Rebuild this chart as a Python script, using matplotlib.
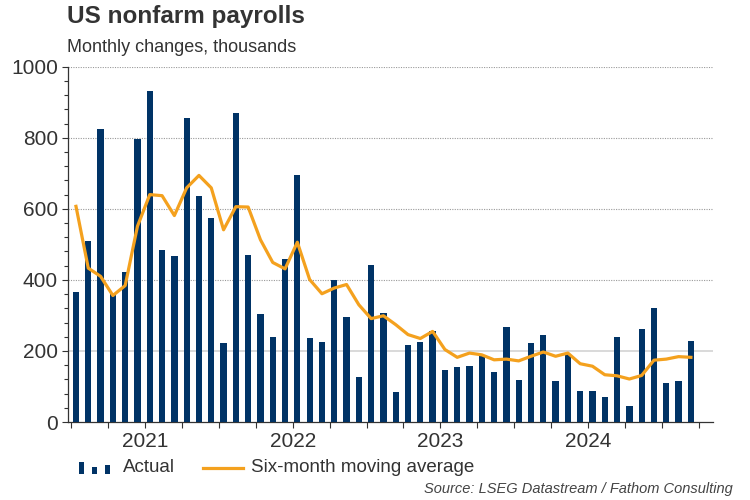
import numpy as np
import matplotlib
matplotlib.use("Agg")
import matplotlib.pyplot as plt
from matplotlib.patches import Rectangle
from matplotlib.lines import Line2D

plt.rcParams['font.family'] = ['Liberation Sans', 'DejaVu Sans']

# Monthly changes, Jan 2021 - Mar 2025 (thousands)
actual = [365, 509, 825, 360, 422, 796, 932, 485, 466, 857,
          637, 573, 223, 870, 470, 305, 240, 460, 695, 236,
          226, 400, 296, 126, 442, 307, 85, 216, 226, 255,
          147, 156, 159, 187, 140, 268, 118, 222, 246, 116,
          191, 87, 87, 70, 240, 45, 262, 322, 111, 116, 229]
moving_avg = [607, 433, 410, 356, 384, 551, 640, 637, 581, 659,
              694, 659, 541, 606, 605, 513, 449, 431, 506, 401,
              361, 377, 387, 330, 291, 299, 274, 246, 235, 255,
              204, 182, 194, 189, 175, 177, 172, 185, 197, 185,
              194, 164, 157, 133, 130, 121, 131, 174, 177, 184, 182]
years = ['2021', '2022', '2023', '2024']
y_ticks = [0, 200, 400, 600, 800, 1000]

NAVY = '#003366'
ORANGE = '#F4A11E'
TEXT = '#333333'

W, H = 750, 500


def fx(px):
    return px / W


def fy(py):
    return 1 - py / H


fig = plt.figure(figsize=(7.5, 5), dpi=100)
ax = fig.add_axes([fx(67.5), fy(422), fx(713) - fx(67.5), fy(66.7) - fy(422)])

x = np.arange(len(actual))
ax.bar(x, actual, width=0.51, color=NAVY, zorder=3)
ax.plot(x, moving_avg, color=ORANGE, lw=2.3, zorder=4, solid_joinstyle='round')

ax.set_ylim(0, 1000)
ax.set_xlim(-0.69, 51.8)

# gridlines
for v in [400, 600, 800, 1000]:
    ax.axhline(v, color='#999999', lw=0.8, ls=(0, (1, 1.2)), zorder=1)
ax.axhline(200, color='#d9d9d9', lw=1.4, zorder=1)

ax.set_yticks(y_ticks)
ax.set_yticks(np.arange(0, 1001, 40), minor=True)
ax.tick_params(axis='y', which='major', length=4, width=0.8, color=TEXT,
               labelsize=15, labelcolor=TEXT, pad=3)
ax.tick_params(axis='y', which='minor', length=3, width=0.8, color=TEXT)

# quarterly ticks at month starts, year labels centred on mid-year
month_start = -0.375
ax.xaxis.remove_overlapping_locs = False
ax.set_xticks(np.arange(0, 53, 3) + month_start)
ax.set_xticklabels([])
ax.set_xticks([6 + 12 * k + month_start for k in range(len(years))], minor=True)
ax.set_xticklabels(years, minor=True)
ax.tick_params(axis='x', which='major', length=4, width=0.8, color=TEXT)
ax.tick_params(axis='x', which='minor', length=0, labelsize=15,
               labelcolor=TEXT, pad=7)

for s in ['top', 'right']:
    ax.spines[s].set_visible(False)
for s in ['left', 'bottom']:
    ax.spines[s].set_color(TEXT)
    ax.spines[s].set_linewidth(0.9)

# titles
fig.text(fx(67), fy(17), 'US nonfarm payrolls', fontsize=17.5, fontweight='bold',
         color=TEXT, ha='left', va='center')
fig.text(fx(67), fy(47), 'Monthly changes, thousands', fontsize=13,
         color=TEXT, ha='left', va='center')

# legend drawn by hand
for x0, y0 in [(79, 461.7), (91.7, 467.3), (105, 465)]:
    fig.add_artist(Rectangle((fx(x0), fy(474)), fx(5), fy(y0) - fy(474),
                             transform=fig.transFigure, color=NAVY, lw=0))
fig.text(fx(122.5), fy(467), 'Actual', fontsize=13.5, color=TEXT,
         ha='left', va='center')
fig.add_artist(Line2D([fx(203), fx(243)], [fy(467.5), fy(467.5)],
                      transform=fig.transFigure, color=ORANGE, lw=2.3))
fig.text(fx(251), fy(467), 'Six-month moving average', fontsize=13.5,
         color=TEXT, ha='left', va='center')

fig.text(fx(733), fy(489), 'Source: LSEG Datastream / Fathom Consulting',
         fontsize=10.5, style='italic', color='#444444', ha='right', va='center')

fig.savefig('out.png', dpi=100)
